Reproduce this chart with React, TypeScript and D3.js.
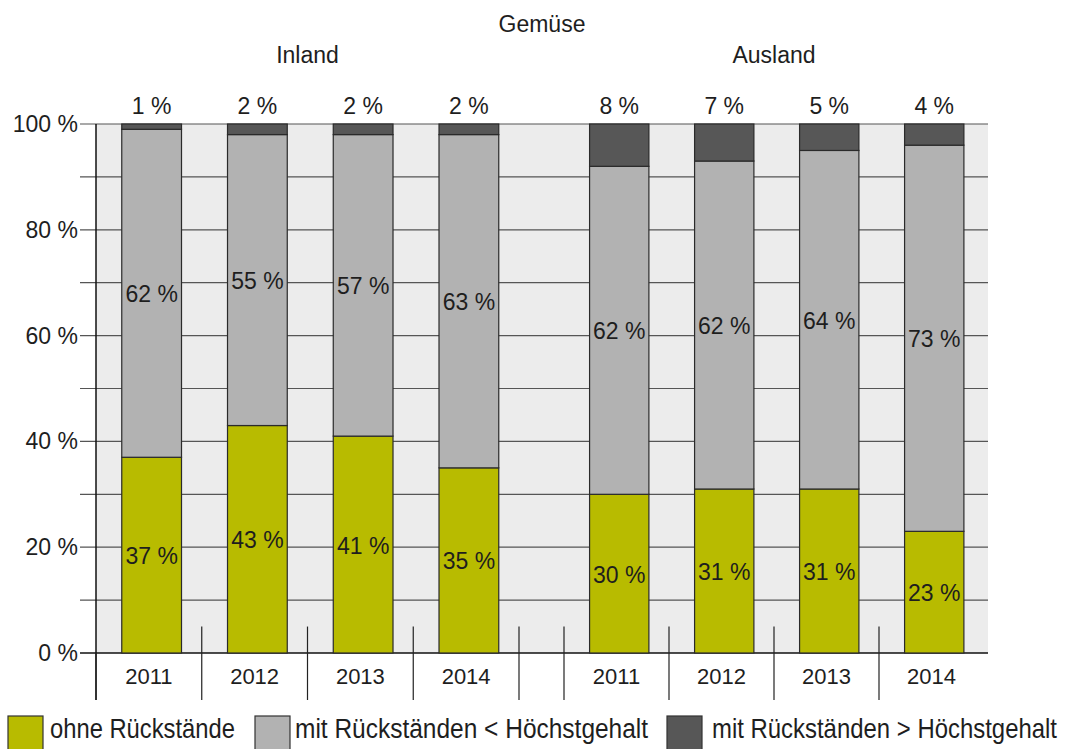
import React, { useLayoutEffect, useRef, useState } from "react";
import * as d3 from "d3";

const title = "Gemüse";
const groupNames = ["Inland", "Ausland"];
const years = ["2011", "2012", "2013", "2014"];
const inlandOhne = [37, 43, 41, 35];
const inlandMit = [62, 55, 57, 63];
const inlandUeber = [1, 2, 2, 2];
const auslandOhne = [30, 31, 31, 23];
const auslandMit = [62, 62, 64, 73];
const auslandUeber = [8, 7, 5, 4];
const yTickValues = [0, 20, 40, 60, 80, 100];
const gridValues = [0, 10, 20, 30, 40, 50, 60, 70, 80, 90, 100];
const seriesKeys = ["ohne", "mit", "ueber"];
const seriesNames = [
  "ohne Rückstände",
  "mit Rückständen < Höchstgehalt",
  "mit Rückständen > Höchstgehalt",
];
const seriesColors = ["#b8bb00", "#b2b2b2", "#575757"];

const W = 1068;
const H = 749;
const FONT = "'Liberation Sans', Arial, sans-serif";
const TXT = "#1e1e1e";

export default function App() {
  const y = d3.scaleLinear().domain([0, 100]).range([653, 124]);
  const plotLeft = 96;
  const plotRight = 988;
  const groupRanges: [number, number][] = [
    [96, 519],
    [564, 984],
  ];
  const groupData = [
    { ohne: inlandOhne, mit: inlandMit, ueber: inlandUeber },
    { ohne: auslandOhne, mit: auslandMit, ueber: auslandUeber },
  ];
  const stack = d3.stack<any>().keys(seriesKeys);

  const groups = groupData.map((g, gi) => {
    const rows = years.map((yr, i) => ({
      year: yr,
      ohne: g.ohne[i],
      mit: g.mit[i],
      ueber: g.ueber[i],
    }));
    const slot = d3.scaleBand().domain(years).range(groupRanges[gi]).padding(0);
    const band = d3
      .scaleBand()
      .domain(years)
      .range(groupRanges[gi])
      .paddingInner(0.435)
      .paddingOuter(0.2175)
      .align(0.56);
    return { rows, series: stack(rows), slot, band, range: groupRanges[gi] };
  });

  const legendSquares = [8, 255, 667];
  const legendTextX = [50, 295, 712];
  const legendTextLen = [185, 353, 345];

  const textRefs = useRef<(SVGTextElement | null)[]>([]);
  const [scales, setScales] = useState<number[]>([0.88, 0.9, 0.88]);
  useLayoutEffect(() => {
    const s = textRefs.current.map((el, i) => {
      if (!el) return 1;
      const w = el.getComputedTextLength();
      return w > 0 ? legendTextLen[i] / w : 1;
    });
    setScales(s);
  }, []);

  return (
    <svg
      width={W}
      height={H}
      style={{ position: "absolute", left: 0, top: 0, display: "block" }}
      fontFamily={FONT}
    >
      <rect x={0} y={0} width={W} height={H} fill="#ffffff" />
      <rect
        x={plotLeft}
        y={y(100)}
        width={plotRight - plotLeft}
        height={y(0) - y(100)}
        fill="#ececec"
      />
      {gridValues.map((v) => (
        <line
          key={"g" + v}
          x1={80}
          x2={plotRight}
          y1={y(v)}
          y2={y(v)}
          stroke={v === 0 ? "#111" : "#555"}
          strokeWidth={v === 0 ? 1.5 : 1.2}
        />
      ))}
      {yTickValues.map((v) => (
        <text
          key={"yt" + v}
          x={78}
          y={y(v)}
          textAnchor="end"
          dominantBaseline="central"
          fontSize={23}
          fill={TXT}
        >
          {v} %
        </text>
      ))}
      <line x1={plotLeft} x2={plotLeft} y1={y(100)} y2={700} stroke="#111" strokeWidth={1.5} />

      {groups.map((g, gi) => (
        <g key={"grp" + gi}>
          {years.map((yr, i) => {
            const sx = g.slot(yr)!;
            const items = [];
            if (!(gi === 0 && i === 0)) {
              items.push(
                <line key={"s1" + yr} x1={sx} x2={sx} y1={y(5)} y2={y(0)} stroke="#222" strokeWidth={1.2} />
              );
            }
            items.push(
              <line key={"s2" + yr} x1={sx} x2={sx} y1={y(0)} y2={700} stroke="#222" strokeWidth={1.2} />
            );
            return items;
          })}
          {gi === 0 && (
            <line
              x1={g.range[1]}
              x2={g.range[1]}
              y1={y(5)}
              y2={700}
              stroke="#222"
              strokeWidth={1.2}
            />
          )}
          {g.series.map((s: any, si: number) =>
            s.map((d: any) => (
              <rect
                key={"b" + si + d.data.year}
                x={g.band(d.data.year)}
                y={y(d[1])}
                width={g.band.bandwidth()}
                height={y(d[0]) - y(d[1])}
                fill={seriesColors[si]}
                stroke="#2a2a2a"
                strokeWidth={1.2}
              />
            ))
          )}
          {g.series.slice(0, 2).map((s: any, si: number) =>
            s.map((d: any) => (
              <text
                key={"l" + si + d.data.year}
                x={g.band(d.data.year)! + g.band.bandwidth() / 2}
                y={y((d[0] + d[1]) / 2) + 1}
                textAnchor="middle"
                dominantBaseline="central"
                fontSize={23}
                fill={TXT}
              >
                {d.data[seriesKeys[si]]} %
              </text>
            ))
          )}
          {g.rows.map((r) => (
            <text
              key={"t" + r.year}
              x={g.band(r.year)! + g.band.bandwidth() / 2}
              y={114}
              textAnchor="middle"
              fontSize={23}
              fill={TXT}
            >
              {r.ueber} %
            </text>
          ))}
          {years.map((yr) => (
            <text
              key={"x" + yr}
              x={g.slot(yr)! + g.slot.bandwidth() / 2}
              y={676}
              textAnchor="middle"
              dominantBaseline="central"
              fontSize={22}
              fill={TXT}
            >
              {yr}
            </text>
          ))}
          <text
            x={(g.range[0] + g.range[1]) / 2}
            y={63}
            textAnchor="middle"
            fontSize={23}
            fill={TXT}
          >
            {groupNames[gi]}
          </text>
        </g>
      ))}
      <text x={542} y={32} textAnchor="middle" fontSize={23} fill={TXT}>
        {title}
      </text>

      {seriesNames.map((name, i) => (
        <g key={"lg" + i}>
          <rect
            x={legendSquares[i]}
            y={716}
            width={35}
            height={36}
            fill={seriesColors[i]}
            stroke="#333"
            strokeWidth={1.2}
          />
          <g transform={`translate(${legendTextX[i]},738) scale(${scales[i]},1)`}>
            <text
              ref={(el) => {
                textRefs.current[i] = el;
              }}
              x={0}
              y={0}
              fontSize={27}
              fill={TXT}
            >
              {name}
            </text>
          </g>
        </g>
      ))}
    </svg>
  );
}
